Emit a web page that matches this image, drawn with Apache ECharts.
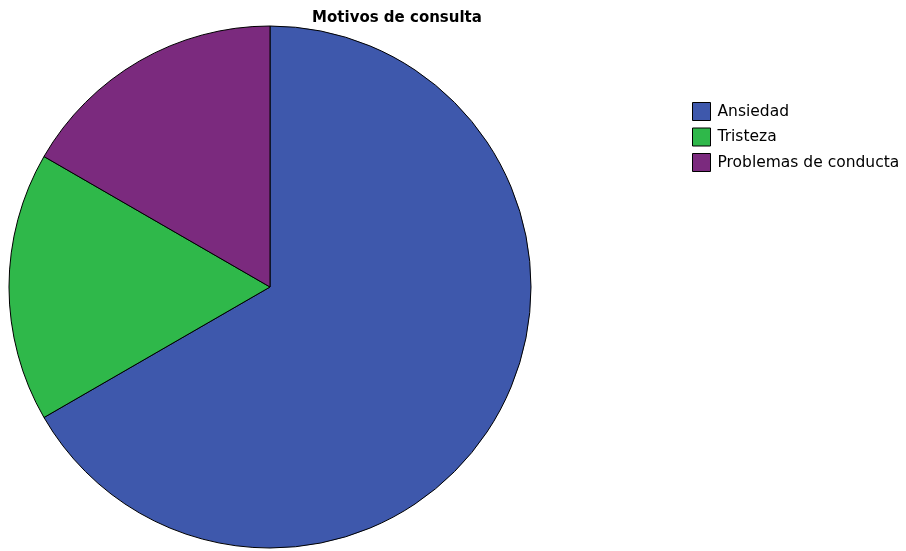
<!DOCTYPE html>
<html>
<head>
<meta charset="utf-8">
<script src="https://cdn.jsdelivr.net/npm/echarts@6/dist/echarts.min.js"></script>
<style>
  html, body { margin: 0; padding: 0; background: #ffffff; }
  #chart { width: 906px; height: 551px; }
</style>
</head>
<body>
<div id="chart"></div>
<script>
// Reasons for consultation
const categories = ['Ansiedad', 'Tristeza', 'Problemas de conducta'];
const values = [4, 1, 1];
const colors = ['#3E58AC', '#2FB84A', '#7B2A7E'];

const chart = echarts.init(document.getElementById('chart'));
chart.setOption({
  animation: false,
  title: {
    text: 'Motivos de consulta',
    left: 397,
    textAlign: 'center',
    top: 11,
    padding: 0,
    textStyle: { fontFamily: 'DejaVu Sans', fontWeight: 'bold', fontSize: 15, color: '#000' }
  },
  legend: {
    orient: 'vertical',
    left: 692,
    top: 102,
    padding: 0,
    icon: 'rect',
    itemWidth: 18,
    itemHeight: 18,
    itemGap: 6.5,
    itemStyle: { borderColor: '#000', borderWidth: 1 },
    textStyle: { fontFamily: 'DejaVu Sans', fontSize: 15.5, color: '#000', padding: [6, 0, -6, 2] },
    data: categories
  },
  series: [{
    type: 'pie',
    center: [270, 287],
    radius: [0, 261],
    startAngle: 90,
    clockwise: true,
    label: { show: false },
    labelLine: { show: false },
    itemStyle: { borderColor: '#000', borderWidth: 1 },
    emphasis: { disabled: true },
    data: categories.map((name, i) => ({ name, value: values[i], itemStyle: { color: colors[i] } }))
  }]
});
</script>
</body>
</html>
